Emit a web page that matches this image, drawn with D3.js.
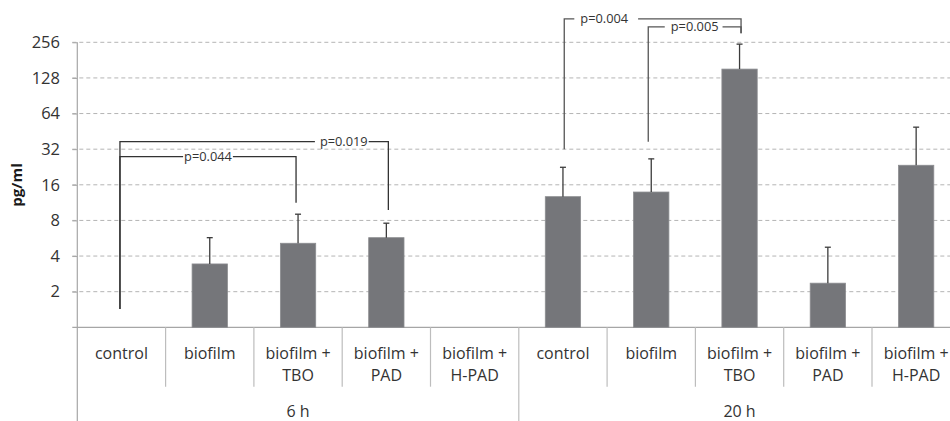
<!DOCTYPE html>
<html>
<head>
<meta charset="utf-8">
<script src="https://cdn.jsdelivr.net/npm/d3@7"></script>
<style>
  html, body { margin: 0; padding: 0; background: #fff; }
  svg { display: block; font-family: "Open Sans", sans-serif; }
</style>
</head>
<body>
<svg id="chart" width="950" height="421"></svg>
<script>
// Cytokine concentration (pg/ml), log2 axis, two time points
const groups = ["6 h", "20 h"];
const categories = ["control", "biofilm", "biofilm +|TBO", "biofilm +|PAD", "biofilm +|H-PAD"];
// null = not detected (no bar)
const values6h  = [null, 3.43, 5.13, 5.72, null];
const errors6h  = [null, 5.72, 9.03, 7.58, null];   // upper end of error bar
const values20h = [12.7, 13.9, 152, 2.36, 23.4];
const errors20h = [22.5, 26.5, 247, 4.75, 49.1];
const yTicks = [2, 4, 8, 16, 32, 64, 128, 256];

// significance brackets: category index (0..9), heights in pg/ml
const brackets = [
  { label: "p=0.044", from: 0, to: 2, level: 27.7, leftEnd: 1.43, rightEnd: 11.3, at: 0.5,   gap: [1, 1],  dx: [-1.5, -2] },
  { label: "p=0.019", from: 0, to: 3, level: 37.1, leftEnd: 1.43, rightEnd: 9.8,  at: 0.834, gap: [5, 1],  dx: [-1.5, 2] },
  { label: "p=0.004", from: 5, to: 7, level: 404,  leftEnd: 32,   rightEnd: 305,  at: 0.226, gap: [6, 10], dx: [1.3, 1.5] },
  { label: "p=0.005", from: 6, to: 7, level: 346,  leftEnd: 37,   rightEnd: 305,  at: 0.5,   gap: [6, 4],  dx: [-3, 1.5] }
];

const rows = [];
groups.forEach((g, gi) => {
  const vals = gi === 0 ? values6h : values20h;
  const errs = gi === 0 ? errors6h : errors20h;
  categories.forEach((c, ci) => {
    rows.push({ key: g + "-" + ci, group: g, cat: c, value: vals[ci], err: errs[ci] });
  });
});

const svg = d3.select("#chart");
const plotTop = 42.3, base = 327.3, plotLeft = 77.3, plotRight = 960.3, plotBottom = 421;
const textColor = "#333333";

const x = d3.scaleBand().domain(rows.map(d => d.key)).range([plotLeft, plotRight]).padding(0);
const y = d3.scaleLog().base(2).domain([1, 256]).range([base, plotTop]);
const bw = x.bandwidth() * 0.4;
const cx = i => x(rows[i].key) + x.bandwidth() / 2;

// gridlines
svg.append("g").selectAll("line").data(yTicks).join("line")
  .attr("x1", plotLeft - 5).attr("x2", plotRight)
  .attr("y1", d => y(d)).attr("y2", d => y(d))
  .attr("stroke", "#b4b4b4").attr("stroke-width", 1)
  .attr("stroke-dasharray", "4,3");

// y axis labels
const yAxis = d3.axisLeft(y).tickValues(yTicks).tickFormat(d3.format("d"))
  .tickSize(5).tickSizeOuter(0).tickPadding(12.3);
const ya = svg.append("g").attr("transform", `translate(${plotLeft},0)`).call(yAxis);
ya.select(".domain").remove();
ya.selectAll(".tick line").attr("stroke", "#a6a6a6");
ya.selectAll(".tick text").attr("fill", textColor)
  .style("font-family", "'Open Sans', sans-serif").style("font-size", "16.5px");

// axis lines
svg.append("line").attr("x1", plotLeft).attr("x2", plotLeft).attr("y1", plotTop).attr("y2", plotBottom)
  .attr("stroke", "#a6a6a6").attr("stroke-width", 1.2);
svg.append("line").attr("x1", plotLeft - 5).attr("x2", plotRight).attr("y1", base).attr("y2", base)
  .attr("stroke", "#a6a6a6").attr("stroke-width", 1.2);

// category separators
svg.append("g").selectAll("line").data(rows.slice(1)).join("line")
  .attr("x1", d => x(d.key)).attr("x2", d => x(d.key))
  .attr("y1", base)
  .attr("y2", d => d.key.endsWith("-0") ? plotBottom : 386.7)
  .attr("stroke", "#bdbdbd").attr("stroke-width", 1.2);

// y title
svg.append("text")
  .attr("transform", `translate(22,185) rotate(-90)`)
  .attr("text-anchor", "middle")
  .attr("fill", "#1a1a1a")
  .style("font-weight", "bold").style("font-size", "15px")
  .text("pg/ml");

// bars
const present = rows.filter(d => d.value != null);
svg.append("g").selectAll("rect").data(present).join("rect")
  .attr("x", d => x(d.key) + (x.bandwidth() - bw) / 2)
  .attr("width", bw)
  .attr("y", d => y(d.value))
  .attr("height", d => base - y(d.value))
  .attr("fill", "#75767a")
  .attr("stroke", "#8c8d90").attr("stroke-width", 0.8);

// error bars
const eb = svg.append("g").attr("stroke", "#3c3c3c").attr("stroke-width", 1.3);
present.forEach(d => {
  const c = x(d.key) + x.bandwidth() / 2;
  eb.append("line").attr("x1", c).attr("x2", c).attr("y1", y(d.value)).attr("y2", y(d.err));
  eb.append("line").attr("x1", c - 3).attr("x2", c + 3).attr("y1", y(d.err)).attr("y2", y(d.err));
});

// category labels
const catText = svg.append("g").selectAll("text").data(rows).join("text")
  .attr("x", d => x(d.key) + x.bandwidth() / 2)
  .attr("y", 358.5)
  .attr("text-anchor", "middle")
  .attr("fill", textColor)
  .style("font-size", "16px");
catText.each(function(d) {
  const lines = d.cat.split("|");
  const t = d3.select(this);
  lines.forEach((ln, i) => {
    t.append("tspan").attr("x", x(d.key) + x.bandwidth() / 2)
      .attr("dy", i === 0 ? 0 : 22).text(ln);
  });
});

// group labels
groups.forEach((g, gi) => {
  const first = x(rows[gi * 5].key);
  const last = x(rows[gi * 5 + 4].key) + x.bandwidth();
  svg.append("text").attr("x", (first + last) / 2).attr("y", 416.5)
    .attr("text-anchor", "middle").attr("fill", textColor)
    .style("font-size", "16px").text(g);
});

// significance brackets
const bg = svg.append("g");
brackets.forEach(b => {
  const x1 = cx(b.from) + b.dx[0], x2 = cx(b.to) + b.dx[1];
  const yl = y(b.level);
  const col = b.from >= 5 ? "#555" : "#333";
  const tx = x1 + (x2 - x1) * b.at;
  const label = bg.append("text")
    .attr("x", tx).attr("y", yl + 4.5)
    .attr("text-anchor", "middle").attr("fill", textColor)
    .style("font-size", "12.8px").text(b.label);
  const w = label.node().getComputedTextLength();
  const path = d3.path();
  path.moveTo(x1, y(b.leftEnd)); path.lineTo(x1, yl); path.lineTo(tx - w / 2 - b.gap[0], yl);
  path.moveTo(tx + w / 2 + b.gap[1], yl); path.lineTo(x2, yl); path.lineTo(x2, y(b.rightEnd));
  bg.append("path").attr("d", path.toString()).attr("fill", "none")
    .attr("stroke", col).attr("stroke-width", 1.3);
});
</script>
</body>
</html>
